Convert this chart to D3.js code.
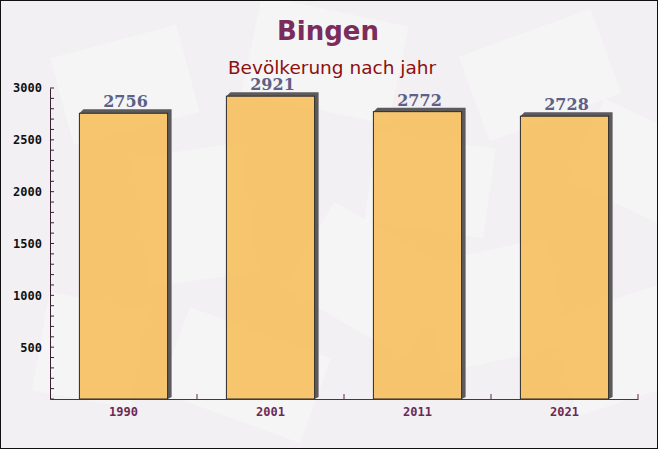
<!DOCTYPE html>
<html><head><meta charset="utf-8">
<script src="https://cdn.jsdelivr.net/npm/d3@7/dist/d3.min.js"></script>
<style>html,body{margin:0;padding:0;background:#fff}svg{display:block}</style>
</head><body>
<script>
const title = "Bingen";
const subtitle = "Bevölkerung nach jahr";
const years = ["1990", "2001", "2011", "2021"];
const population = [2756, 2921, 2772, 2728];
const yTicks = [500, 1000, 1500, 2000, 2500, 3000];

const W = 658, H = 449;
const m = {left: 50, right: 20, top: 88, bottom: 50};
const svg = d3.select("body").append("svg").attr("width", W).attr("height", H);

// background
svg.append("rect").attr("width", W).attr("height", H).attr("fill", "#f2f0f2");
const deco = [[60,40,130,90,-15],[250,10,150,100,12],[470,30,140,90,-20],[580,120,120,90,25],
  [140,150,110,130,-8],[300,230,140,100,30],[430,250,130,110,-12],[40,300,100,100,10],
  [170,330,150,90,20],[560,300,120,100,-18],[370,140,120,90,8]];
svg.append("g").selectAll("rect").data(deco).join("rect")
  .attr("x", d => d[0]).attr("y", d => d[1]).attr("width", d => d[2]).attr("height", d => d[3])
  .attr("transform", d => `rotate(${d[4]},${d[0]+d[2]/2},${d[1]+d[3]/2})`)
  .attr("fill", "#ffffff").attr("opacity", 0.35);

const x = d3.scaleBand().domain(years).range([m.left, W - m.right]).paddingInner(0).paddingOuter(0);
const y = d3.scaleLinear().domain([0, 3000]).range([H - m.bottom, m.top]);
const bw = x.bandwidth() * 0.6;
const d = 4;
const y0 = y(0);

const g = svg.append("g");
// shadows (3D side and top)
g.selectAll("polygon").data(population).join("polygon")
  .attr("points", (v, i) => {
    const xl = x(years[i]) + (x.bandwidth() - bw) / 2, xr = xl + bw, yt = y(v);
    return [[xl, yt], [xl + d, yt - d], [xr + d, yt - d], [xr + d, y0 - 2], [xr, y0], [xr, yt]]
      .map(p => p.join(",")).join(" ");
  })
  .attr("fill", "#5c5a5c");
// bars
g.selectAll("rect.bar").data(population).join("rect").attr("class", "bar")
  .attr("x", (v, i) => x(years[i]) + (x.bandwidth() - bw) / 2)
  .attr("y", v => y(v))
  .attr("width", bw).attr("height", v => y0 - y(v))
  .attr("fill", "#f6c062").attr("fill-opacity", 0.92).attr("stroke", "#2a2a2a").attr("stroke-width", 1);
// value labels
g.selectAll("text.val").data(population).join("text").attr("class", "val")
  .attr("x", (v, i) => x(years[i]) + x.bandwidth() / 2 + 2)
  .attr("y", v => y(v) - 6)
  .attr("text-anchor", "middle")
  .attr("font-family", "DejaVu Serif").attr("font-weight", "bold").attr("font-size", 16)
  .attr("fill", "#5d6185").text(v => v);

// y axis
const yAxis = svg.append("g").attr("transform", `translate(${m.left},0)`)
  .call(d3.axisLeft(y).tickValues(yTicks).tickFormat(d3.format("d")).tickSize(0).tickPadding(8));
yAxis.select(".domain").attr("stroke", "#3a2030");
yAxis.selectAll("text").attr("font-family", "DejaVu Sans Mono").attr("font-weight", "bold")
  .attr("font-size", 12).attr("fill", "#111");
// minor ticks inward
svg.append("g").selectAll("line").data(d3.range(0, 3001, 100)).join("line")
  .attr("x1", m.left).attr("x2", m.left + 4)
  .attr("y1", v => y(v)).attr("y2", v => y(v)).attr("stroke", "#3a2030");

// x axis
const xAxis = svg.append("g").attr("transform", `translate(0,${y0})`)
  .call(d3.axisBottom(x).tickSize(0).tickPadding(8));
xAxis.select(".domain").attr("stroke", "#5a2a48");
xAxis.selectAll("text").attr("font-family", "DejaVu Sans Mono").attr("font-weight", "bold")
  .attr("font-size", 12).attr("fill", "#6b2a55");
svg.append("g").selectAll("line").data(years).join("line")
  .attr("x1", v => x(v) + x.bandwidth()).attr("x2", v => x(v) + x.bandwidth())
  .attr("y1", y0).attr("y2", y0 - 5).attr("stroke", "#5a2a48");

// titles
svg.append("text").attr("x", 328).attr("y", 40).attr("text-anchor", "middle")
  .attr("font-family", "DejaVu Sans").attr("font-weight", "bold").attr("font-size", 26)
  .attr("fill", "#7a2d5c").text(title);
svg.append("text").attr("x", 332).attr("y", 74).attr("text-anchor", "middle")
  .attr("font-family", "DejaVu Sans").attr("font-size", 18.5)
  .attr("fill", "#8b1010").text(subtitle);

// border
svg.append("rect").attr("x", 0.5).attr("y", 0.5).attr("width", W - 1).attr("height", H - 1)
  .attr("fill", "none").attr("stroke", "#111");
</script>
</body></html>
